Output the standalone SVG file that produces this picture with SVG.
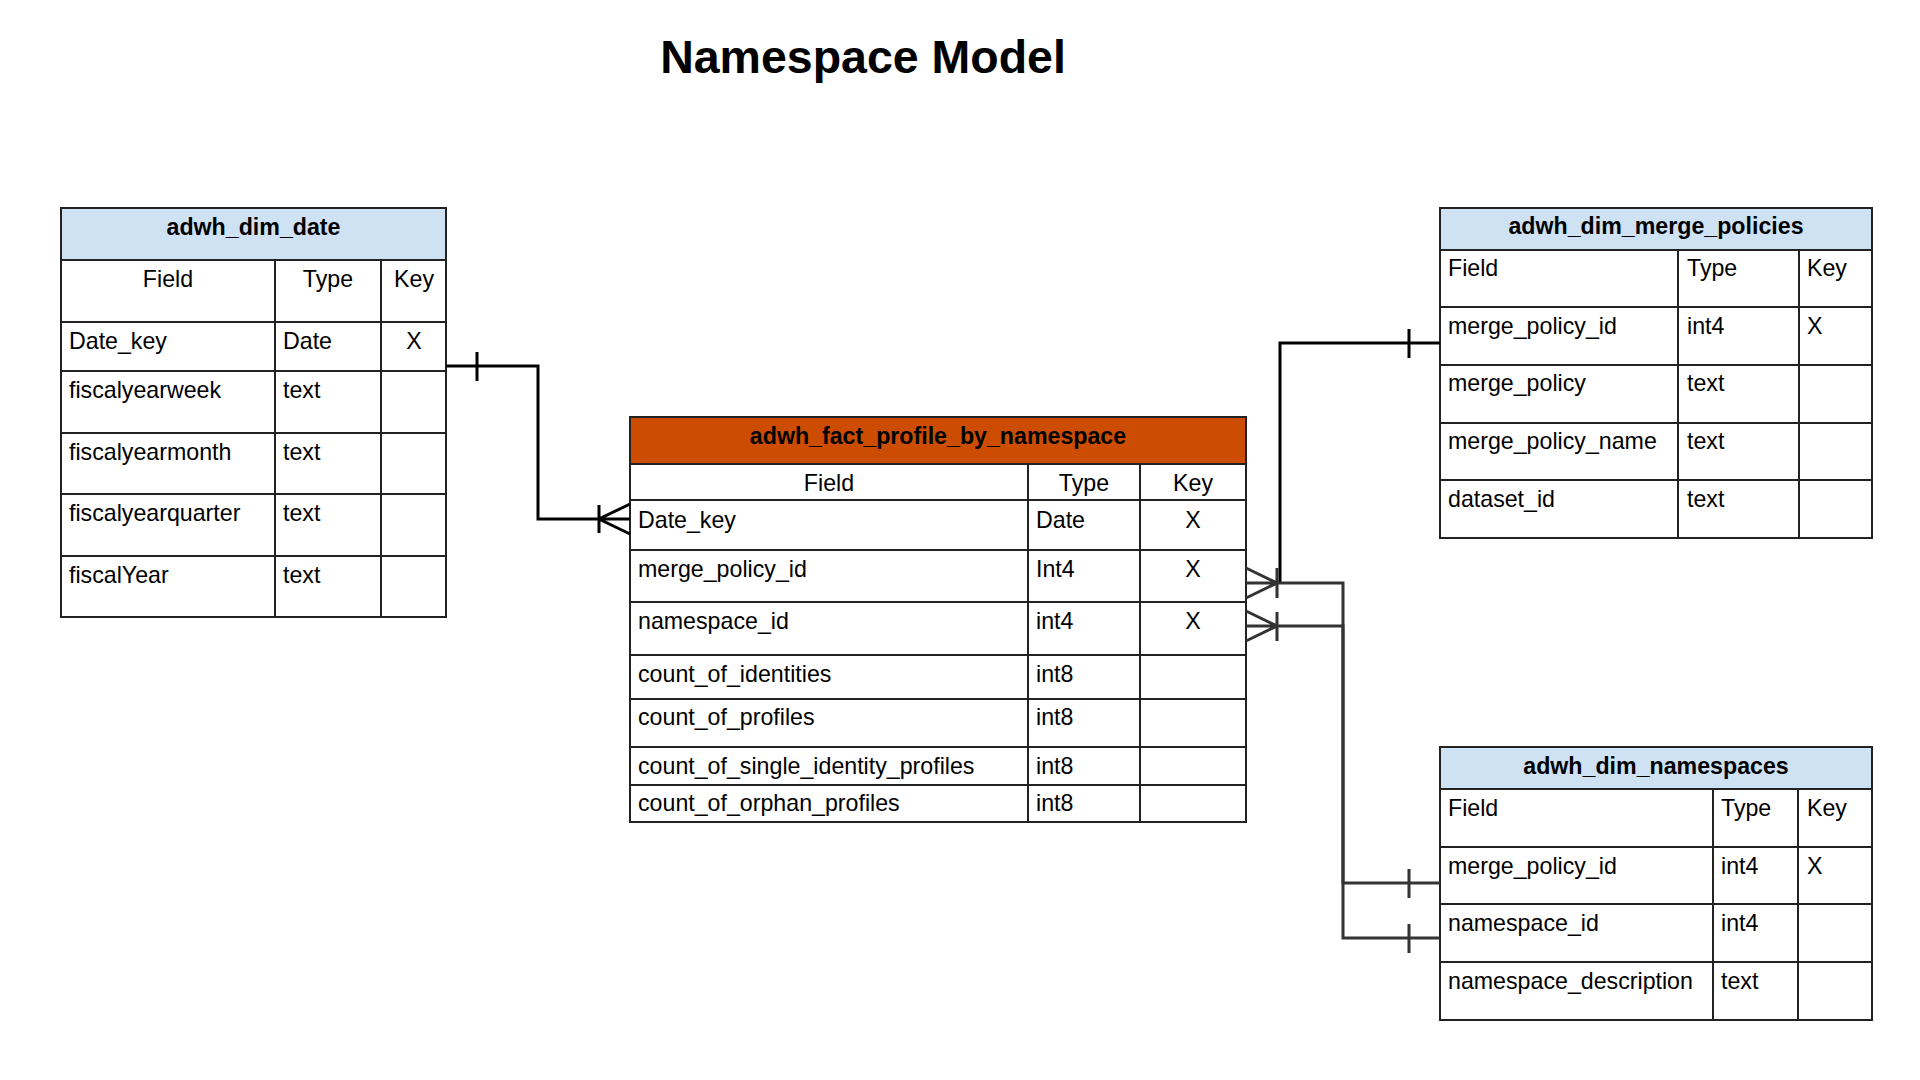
<svg xmlns="http://www.w3.org/2000/svg" width="1920" height="1080" viewBox="0 0 1920 1080">
<style>
text{font-family:"Liberation Sans",Arial,sans-serif;font-size:23.2px;fill:#000}
.t{font-weight:bold}
.title{font-size:46.5px;font-weight:bold}
.c{text-anchor:middle}
.box{fill:#fff;stroke:#222;stroke-width:2}
.hb{fill:#cfe2f3;stroke:#222;stroke-width:2}
.ho{fill:#cc4c02;stroke:#222;stroke-width:2}
.ln{stroke:#222;stroke-width:2;fill:none}
.k{stroke:#000;stroke-width:3;fill:none}
.g{stroke:#333;stroke-width:3;fill:none}
</style>
<rect width="1920" height="1080" fill="#fff"/>
<text class="title c" x="863" y="73">Namespace Model</text>

<g id="adwh_dim_date">
<rect class="box" x="61" y="208" width="385" height="409"/>
<rect class="hb" x="61" y="208" width="385" height="52"/>
<path class="ln" d="M61 322H446M61 371H446M61 433H446M61 494H446M61 556H446M275 260V617M381 260V617"/>
<text class="t c" x="253.5" y="235">adwh_dim_date</text>
<text class="c" x="168" y="287">Field</text><text class="c" x="328" y="287">Type</text><text class="c" x="414" y="287">Key</text>
<text x="69" y="349">Date_key</text><text x="283" y="349">Date</text><text class="c" x="414" y="349">X</text>
<text x="69" y="398">fiscalyearweek</text><text x="283" y="398">text</text>
<text x="69" y="460">fiscalyearmonth</text><text x="283" y="460">text</text>
<text x="69" y="521">fiscalyearquarter</text><text x="283" y="521">text</text>
<text x="69" y="583">fiscalYear</text><text x="283" y="583">text</text>
</g>

<g id="adwh_fact_profile_by_namespace">
<rect class="box" x="630" y="417" width="616" height="405"/>
<rect class="ho" x="630" y="417" width="616" height="47"/>
<path class="ln" d="M630 500H1246M630 550H1246M630 602H1246M630 655H1246M630 699H1246M630 747H1246M630 785H1246M1028 464V822M1140 464V822"/>
<text class="t c" x="938" y="444">adwh_fact_profile_by_namespace</text>
<text class="c" x="829" y="491">Field</text><text class="c" x="1084" y="491">Type</text><text class="c" x="1193" y="491">Key</text>
<text x="638" y="528">Date_key</text><text x="1036" y="528">Date</text><text class="c" x="1193" y="528">X</text>
<text x="638" y="577">merge_policy_id</text><text x="1036" y="577">Int4</text><text class="c" x="1193" y="577">X</text>
<text x="638" y="629">namespace_id</text><text x="1036" y="629">int4</text><text class="c" x="1193" y="629">X</text>
<text x="638" y="682">count_of_identities</text><text x="1036" y="682">int8</text>
<text x="638" y="725">count_of_profiles</text><text x="1036" y="725">int8</text>
<text x="638" y="774">count_of_single_identity_profiles</text><text x="1036" y="774">int8</text>
<text x="638" y="811">count_of_orphan_profiles</text><text x="1036" y="811">int8</text>
</g>

<g id="adwh_dim_merge_policies">
<rect class="box" x="1440" y="208" width="432" height="330"/>
<rect class="hb" x="1440" y="208" width="432" height="42"/>
<path class="ln" d="M1440 307H1872M1440 365H1872M1440 423H1872M1440 480H1872M1678 250V538M1799 250V538"/>
<text class="t c" x="1656" y="234">adwh_dim_merge_policies</text>
<text x="1448" y="276">Field</text><text x="1687" y="276">Type</text><text x="1807" y="276">Key</text>
<text x="1448" y="334">merge_policy_id</text><text x="1687" y="334">int4</text><text x="1807" y="334">X</text>
<text x="1448" y="391">merge_policy</text><text x="1687" y="391">text</text>
<text x="1448" y="449">merge_policy_name</text><text x="1687" y="449">text</text>
<text x="1448" y="507">dataset_id</text><text x="1687" y="507">text</text>
</g>

<g id="adwh_dim_namespaces">
<rect class="box" x="1440" y="747" width="432" height="273"/>
<rect class="hb" x="1440" y="747" width="432" height="42"/>
<path class="ln" d="M1440 847H1872M1440 904H1872M1440 962H1872M1713 789V1020M1798 789V1020"/>
<text class="t c" x="1656" y="774">adwh_dim_namespaces</text>
<text x="1448" y="816">Field</text><text x="1721" y="816">Type</text><text x="1807" y="816">Key</text>
<text x="1448" y="874">merge_policy_id</text><text x="1721" y="874">int4</text><text x="1807" y="874">X</text>
<text x="1448" y="931">namespace_id</text><text x="1721" y="931">int4</text>
<text x="1448" y="989">namespace_description</text><text x="1721" y="989">text</text>
</g>

<g id="connectors">
<path class="k" d="M446 366H538V519H630M477 352V381M599 505V533M630 504L599 519L630 534"/>
<path class="k" d="M1440 343H1280V583M1409 329V358"/>
<path class="g" d="M1246 583H1343V883H1440M1246 568L1277 583L1246 598M1277 568V598M1409 869V898"/>
<path class="g" d="M1246 626H1343V938H1440M1246 611L1277 626L1246 641M1277 612V641M1409 924V953"/>
</g>
</svg>
